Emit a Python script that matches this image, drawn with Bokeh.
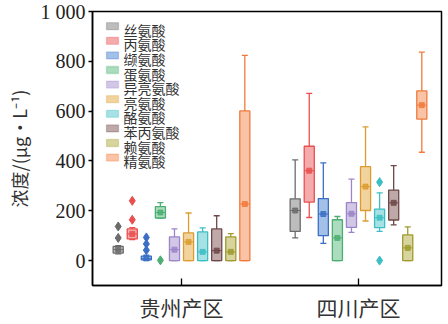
from bokeh.plotting import figure
from bokeh.models import ColumnDataSource, FixedTicker, Range1d, BoxAnnotation, Label
from bokeh.embed import file_html
from bokeh.resources import INLINE

# ---------------- data ----------------
regions = ["贵州产区", "四川产区"]
region_pos = [1, 2]
acids = ["丝氨酸", "丙氨酸", "缬氨酸", "蛋氨酸", "异亮氨酸",
         "亮氨酸", "酪氨酸", "苯丙氨酸", "赖氨酸", "精氨酸"]

# Guizhou
gz_low  = [27, 84, 0, 171, 0, 0, 0, 0, 0, 0]
gz_q1   = [30, 87, 3, 171, 0, 0, 0, 0, 0, 0]
gz_med  = [44, 107, 8, 193, 44, 75, 35, 40, 35, 227]
gz_q3   = [57, 127, 18, 217, 95, 111, 115, 127, 95, 601]
gz_high = [60, 132, 22, 233, 127, 191, 131, 180, 108, 824]
gz_mean = [44, 107, 10, 193, 44, 75, 35, 40, 35, 227]
gz_out  = [[91, 137], [164, 240], [42, 67, 93], [1], [], [], [], [], [], []]

# Sichuan
sc_low  = [91, 173, 69, 0, 113, 159, 117, 143, 0, 435]
sc_q1   = [117, 235, 100, 0, 133, 201, 132, 163, 0, 568]
sc_med  = [201, 361, 187, 91, 188, 297, 172, 232, 51, 624]
sc_q3   = [248, 459, 249, 164, 233, 377, 207, 283, 103, 681]
sc_high = [404, 671, 392, 177, 327, 537, 272, 381, 135, 837]
sc_mean = [201, 361, 187, 91, 188, 297, 172, 232, 51, 624]
sc_out  = [[], [], [], [], [], [], [315, 0], [], [], []]

y_ticks = [0, 200, 400, 600, 800, 1000]

# ---------------- styles ----------------
line_colors = ["#6b6b6b", "#e8504f", "#3b6fc4", "#4cae72", "#9b85c8",
               "#dc9c30", "#3cbec4", "#6e4848", "#a09a30", "#f07a3c"]
fill_colors = ["#bdbdbd", "#f5abab", "#a3c0e8", "#abdcbd", "#d3c7e8",
               "#f2d39e", "#a6e2e4", "#bfa8a8", "#d8d49e", "#fac3a5"]
step = 0.0795
box_w = 0.057
cap_w = 0.034
CJK = "Noto Sans CJK SC"
SERIF = "Liberation Serif"
FRAME_H = 275
LEG_X = 14          # legend glyph left, px from frame left
LEG_TOP = 15.7      # first entry centre, px from frame top
LEG_STEP = 14.6     # px between entries
LEG_TXT_DY = 3.5    # text baseline correction

p = figure(width=448, height=324, output_backend="svg", toolbar_location=None,
           x_range=Range1d(0.497, 2.469), y_range=Range1d(-100, 1000))
p.min_border_left = 92
p.min_border_right = 7
p.min_border_top = 11
p.min_border_bottom = 38
p.outline_line_color = "black"
p.outline_line_width = 1.5
p.xgrid.visible = False
p.ygrid.visible = False
p.background_fill_color = "white"
p.border_fill_color = "white"

stats = [
    (gz_low, gz_q1, gz_med, gz_q3, gz_high, gz_mean, gz_out),
    (sc_low, sc_q1, sc_med, sc_q3, sc_high, sc_mean, sc_out),
]

for i, name in enumerate(acids):
    xs, lo, q1, md, q3, hi, mn = [], [], [], [], [], [], []
    ox, oy = [], []
    for r, pos in enumerate(region_pos):
        low, qq1, med, qq3, high, mean, outs = stats[r]
        x = pos + (i - 4.5) * step
        xs.append(x); lo.append(low[i]); q1.append(qq1[i]); md.append(med[i])
        q3.append(qq3[i]); hi.append(high[i]); mn.append(mean[i])
        for v in outs[i]:
            ox.append(x); oy.append(v)
    src = ColumnDataSource(dict(
        x=xs, lo=lo, q1=q1, md=md, q3=q3, hi=hi, mn=mn,
        xl=[x - cap_w / 2 for x in xs], xr=[x + cap_w / 2 for x in xs],
        bl=[x - box_w / 2 for x in xs], br=[x + box_w / 2 for x in xs]))
    lc, fc = line_colors[i], fill_colors[i]
    # whiskers
    p.segment(x0="x", y0="lo", x1="x", y1="q1", source=src, line_color=lc, line_width=1.3)
    p.segment(x0="x", y0="q3", x1="x", y1="hi", source=src, line_color=lc, line_width=1.3)
    p.segment(x0="xl", y0="lo", x1="xr", y1="lo", source=src, line_color=lc, line_width=1.3)
    p.segment(x0="xl", y0="hi", x1="xr", y1="hi", source=src, line_color=lc, line_width=1.3)
    # box
    p.vbar(x="x", width=box_w, bottom="q1", top="q3", source=src,
           fill_color=fc, line_color=lc, line_width=1.3)
    # median
    p.segment(x0="bl", y0="md", x1="br", y1="md", source=src, line_color=lc, line_width=1)
    # mean
    p.scatter(x="x", y="mn", source=src, marker="square", size=5,
              fill_color=lc, fill_alpha=0.85, line_color=lc, line_width=0.8)
    # outliers
    if ox:
        p.scatter(x=ox, y=oy, marker="diamond", size=9, fill_color=lc, line_color=lc)

    # legend entry (screen units, measured from frame bottom-left)
    cy = FRAME_H - (LEG_TOP + i * LEG_STEP)
    p.add_layout(BoxAnnotation(left=LEG_X, right=LEG_X + 12, bottom=cy - 3.5, top=cy + 3.5,
                               left_units="screen", right_units="screen",
                               bottom_units="screen", top_units="screen",
                               fill_color=fc, fill_alpha=1.0, line_color=lc, line_width=1.3,
                               editable=False))
    p.add_layout(Label(x=LEG_X + 17, y=cy - LEG_TXT_DY, x_units="screen", y_units="screen",
                       text=name, text_font=CJK, text_font_size="14px", text_color="#333333",
                       text_baseline="middle", text_align="left"))

# axes
p.yaxis.ticker = FixedTicker(ticks=y_ticks)
p.yaxis.major_label_overrides = {1000: "1 000"}
p.yaxis.major_tick_in = 0
p.yaxis.major_tick_out = 4
p.yaxis.minor_tick_line_color = None
p.yaxis.major_label_text_font = SERIF
p.yaxis.major_label_text_font_size = "20px"
p.yaxis.major_label_text_color = "#222222"
p.yaxis.major_label_standoff = 3
p.yaxis.axis_label = "浓度/(μg•L⁻¹)"
p.yaxis.axis_label_text_font = CJK
p.yaxis.axis_label_text_font_size = "18px"
p.yaxis.axis_label_text_font_style = "normal"
p.yaxis.axis_label_text_color = "#333333"
p.yaxis.axis_label_standoff = 6
p.yaxis.axis_line_color = "black"
p.yaxis.axis_line_width = 1.5
p.yaxis.major_tick_line_width = 1.3

p.xaxis.ticker = FixedTicker(ticks=region_pos)
p.xaxis.major_label_overrides = {pos: lab for pos, lab in zip(region_pos, regions)}
p.xaxis.major_tick_in = 7
p.xaxis.major_tick_out = 0
p.xaxis.minor_tick_line_color = None
p.xaxis.major_label_text_font = CJK
p.xaxis.major_label_text_font_size = "21px"
p.xaxis.major_label_text_color = "#333333"
p.xaxis.major_label_standoff = 6
p.xaxis.axis_line_color = "black"
p.xaxis.axis_line_width = 1.5
p.xaxis.major_tick_line_width = 1.3

open("out.html", "w").write(file_html(p, INLINE))
